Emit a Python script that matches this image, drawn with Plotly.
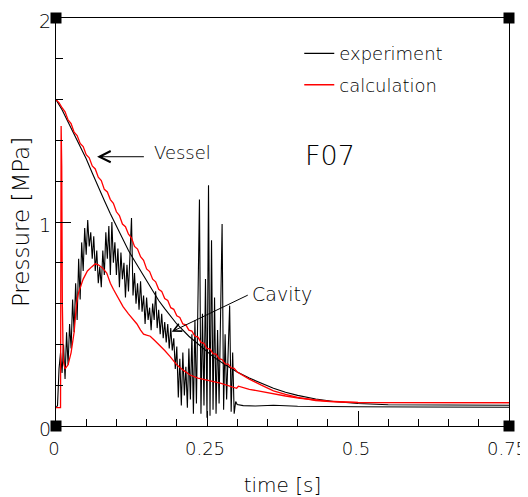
import plotly.graph_objects as go

# vessel pressure, experiment (black smooth curve)
vessel_exp_t = [0.0, 0.01, 0.02, 0.03, 0.04, 0.05, 0.06, 0.07, 0.08, 0.09, 0.10, 0.11, 0.12,
                0.13, 0.14, 0.15, 0.16, 0.17, 0.18, 0.19, 0.20, 0.22, 0.24, 0.26, 0.28, 0.30,
                0.32, 0.34, 0.36, 0.38, 0.40, 0.43, 0.46, 0.50, 0.55, 0.75]
vessel_exp_p = [1.60, 1.55, 1.49, 1.43, 1.37, 1.31, 1.24, 1.17, 1.105, 1.04, 0.98, 0.92, 0.86,
                0.81, 0.76, 0.71, 0.66, 0.615, 0.575, 0.535, 0.50, 0.44, 0.39, 0.34, 0.30, 0.265,
                0.235, 0.21, 0.185, 0.165, 0.15, 0.132, 0.12, 0.11, 0.104, 0.102]

# vessel pressure, calculation (red, stepped)
vessel_calc_t = [0.0, 0.005, 0.01, 0.015, 0.02, 0.025, 0.03, 0.035, 0.04, 0.045, 0.05, 0.055,
                 0.06, 0.065, 0.07, 0.075, 0.08, 0.085, 0.09, 0.095, 0.10, 0.105, 0.11, 0.115,
                 0.12, 0.125, 0.13, 0.135, 0.14, 0.145, 0.15, 0.155, 0.16, 0.165, 0.17, 0.175,
                 0.18, 0.185, 0.19, 0.195, 0.20, 0.205, 0.21, 0.215, 0.22, 0.225, 0.23, 0.235,
                 0.24, 0.245, 0.25, 0.255, 0.26, 0.265, 0.27, 0.275, 0.28, 0.285, 0.29, 0.295,
                 0.30, 0.32, 0.34, 0.36, 0.38, 0.40, 0.43, 0.46, 0.50, 0.75]
vessel_calc_p = [1.600, 1.585, 1.560, 1.540, 1.500, 1.482, 1.440, 1.424, 1.385, 1.370, 1.330, 1.315,
                 1.275, 1.260, 1.220, 1.203, 1.160, 1.147, 1.110, 1.092, 1.050, 1.032, 0.990, 0.977,
                 0.940, 0.922, 0.880, 0.867, 0.830, 0.812, 0.770, 0.757, 0.720, 0.707, 0.670, 0.660,
                 0.625, 0.615, 0.580, 0.572, 0.540, 0.532, 0.500, 0.496, 0.470, 0.465, 0.440, 0.436,
                 0.410, 0.405, 0.380, 0.377, 0.355, 0.352, 0.330, 0.326, 0.305, 0.303, 0.285, 0.283,
                 0.265, 0.23, 0.20, 0.172, 0.155, 0.14, 0.125, 0.118, 0.115, 0.115]

# cavity pressure, experiment (black, noisy)
cavity_exp_t = [0.0, 0.0025, 0.005, 0.0075, 0.01, 0.0125, 0.015, 0.0175, 0.02, 0.0225, 0.025, 0.0275,
                0.03, 0.0325, 0.035, 0.0375, 0.04, 0.0425, 0.045, 0.0475, 0.05, 0.0525, 0.055, 0.0575,
                0.06, 0.0625, 0.065, 0.0675, 0.07, 0.0725, 0.075, 0.0775, 0.08, 0.0825, 0.085, 0.0875,
                0.09, 0.0925, 0.095, 0.0975, 0.10, 0.1025, 0.105, 0.1075, 0.11, 0.1125, 0.115, 0.1175,
                0.12, 0.1225, 0.125, 0.1275, 0.13, 0.1325, 0.135, 0.1375, 0.14, 0.1425, 0.145, 0.1475,
                0.15, 0.1525, 0.155, 0.1575, 0.16, 0.1625, 0.165, 0.1675, 0.17, 0.1725, 0.175, 0.1775,
                0.18, 0.1825, 0.185, 0.1875, 0.19, 0.1925, 0.195, 0.1975, 0.20, 0.2025, 0.205, 0.2075,
                0.21, 0.2125, 0.215, 0.2175, 0.22, 0.2225, 0.225, 0.2275, 0.23, 0.2325, 0.235, 0.2375,
                0.24, 0.2425, 0.245, 0.2475, 0.25, 0.2525, 0.255, 0.2575, 0.26, 0.2625, 0.265, 0.2675,
                0.27, 0.2725, 0.275, 0.2775, 0.28, 0.2825, 0.285, 0.2875, 0.29, 0.2925, 0.295, 0.2975,
                0.30, 0.31, 0.33, 0.36, 0.40, 0.45, 0.50, 0.60, 0.75]
cavity_exp_p = [0.09, 0.10, 0.28, 0.36, 0.26, 0.40, 0.23, 0.46, 0.30, 0.50, 0.38, 0.62,
                0.46, 0.70, 0.52, 0.82, 0.62, 0.90, 0.76, 0.97, 0.84, 1.01, 0.88, 0.95,
                0.82, 0.93, 0.76, 0.86, 0.70, 0.78, 0.68, 0.86, 0.74, 0.95, 0.82, 0.98,
                0.74, 1.00, 0.80, 0.90, 0.74, 0.87, 0.68, 0.85, 0.72, 0.80, 0.63, 0.79,
                0.66, 0.85, 1.02, 0.64, 0.75, 0.60, 0.70, 0.57, 0.71, 0.56, 0.64, 0.50,
                0.63, 0.52, 0.58, 0.47, 0.60, 0.52, 0.66, 0.48, 0.57, 0.45, 0.55, 0.43,
                0.51, 0.41, 0.50, 0.38, 0.48, 0.37, 0.43, 0.28, 0.39, 0.14, 0.33, 0.10,
                0.36, 0.15, 0.29, 0.09, 0.38, 0.13, 0.45, 0.06, 0.52, 0.11, 0.62, 1.11,
                0.06, 0.55, 0.10, 0.72, 0.04, 1.18, 0.05, 0.91, 0.08, 0.63, 0.06, 0.47,
                0.11, 0.56, 0.99, 0.08, 0.45, 0.13, 0.41, 0.59, 0.07, 0.36, 0.06, 0.12,
                0.105, 0.10, 0.098, 0.102, 0.097, 0.095, 0.094, 0.093, 0.092]

# cavity pressure, calculation (red)
cavity_calc_t = [0.0, 0.006, 0.0075, 0.0085, 0.0095, 0.0105, 0.012, 0.015, 0.02, 0.025, 0.03,
                 0.034, 0.037, 0.045, 0.052, 0.059, 0.065, 0.07, 0.077, 0.084, 0.09, 0.095,
                 0.103, 0.111, 0.12, 0.128, 0.134, 0.14, 0.145, 0.15, 0.156, 0.163, 0.17, 0.18,
                 0.189, 0.20, 0.21, 0.222, 0.235, 0.25, 0.272, 0.299, 0.302, 0.32, 0.354, 0.38,
                 0.404, 0.45, 0.50, 0.75]
cavity_calc_p = [0.09, 0.09, 0.09, 1.47, 1.27, 0.60, 0.32, 0.28, 0.30, 0.36, 0.46,
                 0.60, 0.65, 0.72, 0.76, 0.78, 0.795, 0.79, 0.775, 0.75, 0.70, 0.67,
                 0.63, 0.585, 0.55, 0.52, 0.50, 0.47, 0.45, 0.445, 0.44, 0.42, 0.40, 0.37,
                 0.34, 0.30, 0.275, 0.25, 0.235, 0.225, 0.21, 0.185, 0.195, 0.18, 0.16, 0.147,
                 0.136, 0.122, 0.116, 0.115]

x_ticks = [0, 0.25, 0.5, 0.75]
x_labels = ["0", "0.25", "0.5", "0.75"]
y_ticks = [0, 1, 2]
y_labels = ["0", "1", "2"]

FONT = "DejaVu Sans ExtraLight, DejaVu Sans"

fig = go.Figure()

fig.add_trace(go.Scatter(x=cavity_exp_t, y=cavity_exp_p, mode="lines",
                         line=dict(color="black", width=1.1), showlegend=False))
fig.add_trace(go.Scatter(x=vessel_exp_t, y=vessel_exp_p, mode="lines", name="experiment",
                         line=dict(color="black", width=1.1), legendgroup="a"))
fig.add_trace(go.Scatter(x=cavity_calc_t, y=cavity_calc_p, mode="lines",
                         line=dict(color="#ff0000", width=1.3), showlegend=False))
fig.add_trace(go.Scatter(x=vessel_calc_t, y=vessel_calc_p, mode="lines", name="calculation",
                         line=dict(color="#ff0000", width=1.3), legendgroup="b"))

# black squares at the frame corners
fig.add_trace(go.Scatter(x=[0, 0, 0.75, 0.75], y=[0, 2, 0, 2], mode="markers",
                         marker=dict(symbol="square", size=11, color="black"),
                         cliponaxis=False, showlegend=False, hoverinfo="skip"))

fig.add_annotation(x=0.068, y=1.32, ax=0.148, ay=1.32, axref="x", ayref="y",
                   text="", showarrow=True, arrowhead=5, arrowsize=2.2, arrowwidth=1,
                   arrowcolor="black")
fig.add_annotation(x=0.21, y=1.343, text="Vessel", showarrow=False,
                   font=dict(size=18))
fig.add_annotation(x=0.1915, y=0.462, ax=0.32, ay=0.645, axref="x", ayref="y",
                   text="", showarrow=True, arrowhead=5, arrowsize=1.6, arrowwidth=1,
                   arrowcolor="black")
fig.add_annotation(x=0.374, y=0.647, text="Cavity", showarrow=False,
                   font=dict(size=19))
fig.add_annotation(x=0.4536, y=1.328, text="F07", showarrow=False,
                   font=dict(size=27))

# the page body has an 8px margin, so the figure is shrunk and shifted by it
fig.update_layout(
    width=520, height=489,
    margin=dict(l=48, r=19, t=10, b=71),
    plot_bgcolor="white", paper_bgcolor="white",
    font=dict(family=FONT, size=18, color="black", weight=200),
    legend=dict(x=0.537, y=0.958, xanchor="left", yanchor="top",
                bgcolor="rgba(0,0,0,0)", tracegroupgap=5,
                font=dict(size=18)),
    xaxis2=dict(overlaying="x", side="top", range=[0, 0.75], tickvals=x_ticks,
                showticklabels=False, ticks="inside", ticklen=15, tickcolor="black",
                minor=dict(ticks="inside", ticklen=7, dtick=0.05, tickcolor="black"),
                showgrid=False, zeroline=False, showline=False),
    yaxis2=dict(overlaying="y", side="right", range=[0, 2], tickvals=y_ticks,
                showticklabels=False, ticks="inside", ticklen=15, tickcolor="black",
                minor=dict(ticks="inside", ticklen=7, dtick=0.2, tickcolor="black"),
                showgrid=False, zeroline=False, showline=False),
)

fig.layout.xaxis.update(range=[0, 0.75], tickvals=x_ticks, ticktext=x_labels,
                        ticks="inside", ticklen=15, tickcolor="black", tickwidth=1,
                        minor=dict(ticks="inside", ticklen=7, dtick=0.05, tickcolor="black"),
                        showline=True, linecolor="black", linewidth=1, mirror=True,
                        showgrid=False, zeroline=False, tickfont=dict(size=18),
                        automargin=False, ticklabeloverflow="allow", ticklabelstandoff=6,
                        ticklabelshift=-2,
                        title=dict(text="time [s]", font=dict(size=20), standoff=22))
fig.layout.yaxis.update(range=[0, 2], tickvals=y_ticks, ticktext=y_labels,
                        ticks="inside", ticklen=15, tickcolor="black", tickwidth=1,
                        minor=dict(ticks="inside", ticklen=7, dtick=0.2, tickcolor="black"),
                        showline=True, linecolor="black", linewidth=1, mirror=True,
                        showgrid=False, zeroline=False, tickfont=dict(size=19),
                        automargin=False, ticklabeloverflow="allow", ticklabelshift=3,
                        title=dict(text="Pressure [MPa]", font=dict(size=23), standoff=4))

fig.write_html("out.html")
